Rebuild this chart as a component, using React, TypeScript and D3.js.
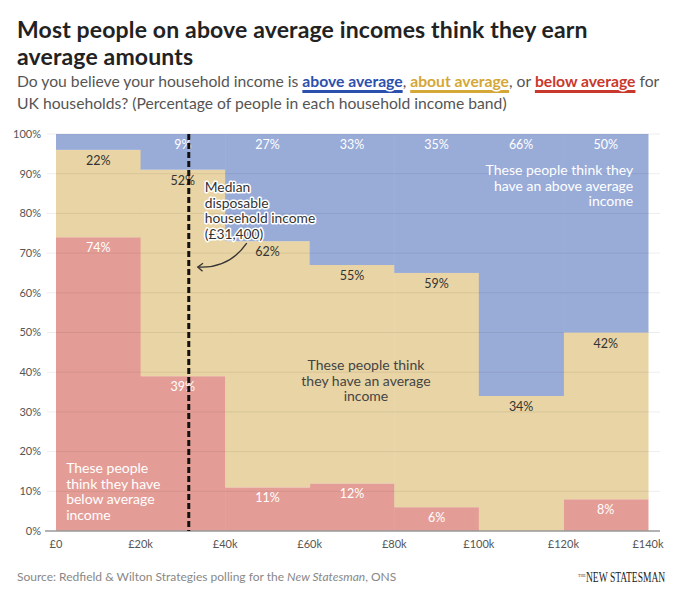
import { useEffect, useRef } from 'react';
import * as d3 from 'd3';

// income bands, in £k (each band is 20k wide)
const bandStarts = [0, 20, 40, 60, 80, 100, 120];
const bandWidth = 20;

// share of respondents in each band (%)
const belowAvg = [74, 39, 11, 12, 6, 0, 8];
const aboutAvg = [22, 52, 62, 55, 59, 34, 42];
const aboveAvg = [4, 9, 27, 33, 35, 66, 50];

const yTicks = [0, 10, 20, 30, 40, 50, 60, 70, 80, 90, 100];
const xTicks = [0, 20, 40, 60, 80, 100, 120, 140];
const medianIncome = 31.4;

const COLORS = { below: '#e49d96', about: '#e8d4a4', above: '#99acd8' };
const FONT = 'Lato, "Noto Sans", sans-serif';

export default function App() {
  const svgRef = useRef<SVGSVGElement>(null);

  useEffect(() => {
    if (!svgRef.current) return;
    document.body.style.margin = '0';

    const svg = d3.select(svgRef.current);
    svg.selectAll('*').remove();

    const x = d3.scaleLinear().domain([0, 140]).range([56, 648]);
    const y = d3.scaleLinear().domain([0, 100]).range([531, 134]);

    // Title
    const title = svg.append('text')
      .attr('x', 17)
      .attr('font-family', FONT)
      .attr('font-weight', 700)
      .attr('font-size', 23)
      .attr('letter-spacing', 0.15)
      .attr('fill', '#222');
    ['Most people on above average incomes think they earn', 'average amounts'].forEach((t, i) => {
      title.append('tspan').attr('x', 17).attr('y', 38 + i * 27).text(t);
    });

    // Subtitle with coloured keywords
    const sub = svg.append('text')
      .attr('font-family', FONT)
      .attr('font-size', 15.7)
      .attr('fill', '#555');
    const parts: Array<[string, string | null]> = [
      ['Do you believe your household income is ', null],
      ['above average', '#2c50ad'],
      [', ', null],
      ['about average', '#d4a736'],
      [', or ', null],
      ['below average', '#c9382c'],
      [' for', null],
    ];
    const line1 = sub.append('tspan').attr('x', 17).attr('y', 87);
    const colored: Array<{ node: SVGTSpanElement; color: string }> = [];
    parts.forEach(([t, c], i) => {
      const ts = (i === 0 ? line1 : sub.append('tspan')).text(t);
      if (c) {
        ts.attr('fill', c).attr('font-weight', 700)
          .attr('stroke', '#fff').attr('stroke-width', 3)
          .attr('paint-order', 'stroke');
        colored.push({ node: ts.node() as SVGTSpanElement, color: c });
      }
    });
    sub.append('tspan').attr('x', 17).attr('y', 109)
      .text('UK households? (Percentage of people in each household income band)');

    // underline bars behind keywords
    colored.forEach(({ node, color }) => {
      const start = node.getStartPositionOfChar(0);
      const w = node.getComputedTextLength();
      svg.insert('rect', 'text')
        .attr('x', start.x)
        .attr('y', 90)
        .attr('width', w)
        .attr('height', 3)
        .attr('fill', color);
    });

    // stacked bands
    const rows = bandStarts.map((s, i) => ({
      start: s,
      below: belowAvg[i],
      about: aboutAvg[i],
      above: aboveAvg[i],
    }));
    const stack = d3.stack<typeof rows[number]>().keys(['below', 'about', 'above']);
    const series = stack(rows);

    const plot = svg.append('g');
    series.forEach(s => {
      plot.append('g')
        .selectAll('rect')
        .data(s)
        .join('rect')
        .attr('x', d => x(d.data.start))
        .attr('width', d => x(d.data.start + bandWidth) - x(d.data.start) + 0.5)
        .attr('y', d => y(d[1]))
        .attr('height', d => y(d[0]) - y(d[1]))
        .attr('fill', COLORS[s.key as keyof typeof COLORS]);
    });

    // gridlines on top
    svg.append('g')
      .selectAll('line')
      .data(yTicks.filter(t => t > 0))
      .join('line')
      .attr('x1', 47)
      .attr('x2', 660)
      .attr('y1', d => y(d))
      .attr('y2', d => y(d))
      .attr('stroke', '#000')
      .attr('stroke-opacity', 0.07);

    svg.append('line')
      .attr('x1', 45).attr('x2', 660)
      .attr('y1', y(0)).attr('y2', y(0))
      .attr('stroke', '#999').attr('stroke-width', 1.5);

    // axis labels
    svg.append('g')
      .selectAll('text')
      .data(yTicks)
      .join('text')
      .attr('x', 41)
      .attr('y', d => y(d))
      .attr('dy', '0.35em')
      .attr('text-anchor', 'end')
      .attr('font-family', FONT)
      .attr('font-size', 11)
      .attr('fill', '#555')
      .text(d => `${d}%`);

    svg.append('g')
      .selectAll('text')
      .data(xTicks)
      .join('text')
      .attr('x', d => x(d))
      .attr('y', 548)
      .attr('text-anchor', 'middle')
      .attr('font-family', FONT)
      .attr('font-size', 11)
      .attr('fill', '#555')
      .text(d => (d === 0 ? '£0' : `£${d}k`));

    // value labels
    const labelColor: Record<string, string> = { below: '#fff', about: '#333', above: '#fff' };
    series.forEach(s => {
      svg.append('g')
        .selectAll('text')
        .data(s.filter(d => d.data[s.key as 'below'] >= 5))
        .join('text')
        .attr('x', d => x(d.data.start + bandWidth / 2))
        .attr('y', d => y(d[1]) + 15)
        .attr('text-anchor', 'middle')
        .attr('font-family', FONT)
        .attr('font-size', 12.5)
        .attr('fill', labelColor[s.key])
        .text(d => `${d.data[s.key as 'below']}%`);
    });

    // median line
    svg.append('line')
      .attr('x1', x(medianIncome)).attr('x2', x(medianIncome))
      .attr('y1', y(100)).attr('y2', y(0))
      .attr('stroke', '#111')
      .attr('stroke-width', 3)
      .attr('stroke-dasharray', '6 3');

    // median annotation
    const med = svg.append('text')
      .attr('font-family', FONT)
      .attr('font-size', 13.8)
      .attr('fill', '#333')
      .attr('stroke', '#fff')
      .attr('stroke-width', 3)
      .attr('stroke-linejoin', 'round')
      .attr('paint-order', 'stroke');
    ['Median', 'disposable', 'household income', '(£31,400)'].forEach((t, i) => {
      med.append('tspan').attr('x', x(medianIncome) + 16).attr('y', 192 + i * 15.5).text(t);
    });

    svg.append('defs').append('marker')
      .attr('id', 'arrow')
      .attr('viewBox', '-6 -5 8 10')
      .attr('markerWidth', 8)
      .attr('markerHeight', 10)
      .attr('orient', 'auto')
      .attr('markerUnits', 'userSpaceOnUse')
      .append('path')
      .attr('d', 'M-5,-4 L0,0 L-5,4')
      .attr('fill', 'none')
      .attr('stroke', '#333')
      .attr('stroke-width', 1.3);

    const ax = x(medianIncome);
    svg.append('path')
      .attr('d', `M${ax + 58},${y(72.5)} Q${ax + 40},${y(66)} ${ax + 9},${y(66.5)}`)
      .attr('fill', 'none')
      .attr('stroke', '#333')
      .attr('stroke-width', 1.3)
      .attr('marker-end', 'url(#arrow)');

    // group annotations
    const note = (lines: string[], px: number, py: number, anchor: string, color: string) => {
      const t = svg.append('text')
        .attr('font-family', FONT)
        .attr('font-size', 14)
        .attr('fill', color)
        .attr('text-anchor', anchor);
      lines.forEach((l, i) => {
        t.append('tspan').attr('x', px).attr('y', py + i * 15.5).text(l);
      });
    };
    note(['These people think they', 'have an above average', 'income'], x(136.5), 175, 'end', '#fff');
    note(['These people think', 'they have an average', 'income'], x(73.3), 370, 'middle', '#444');
    note(['These people', 'think they have', 'below average', 'income'], x(2.4), 473, 'start', '#fff');

    // footer
    const src = svg.append('text')
      .attr('x', 17).attr('y', 581)
      .attr('font-family', FONT)
      .attr('font-size', 12)
      .attr('fill', '#888');
    src.append('tspan').text('Source: Redfield & Wilton Strategies polling for the ');
    src.append('tspan').attr('font-style', 'italic').text('New Statesman');
    src.append('tspan').text(', ONS');

    svg.append('text')
      .attr('x', 578).attr('y', 577)
      .attr('font-family', '"Liberation Serif", serif')
      .attr('font-size', 4)
      .attr('fill', '#333')
      .text('THE');
    svg.append('text')
      .attr('transform', 'translate(586,582) scale(0.68,1)')
      .attr('font-family', '"Liberation Serif", serif')
      .attr('font-size', 14)
      .attr('fill', '#222')
      .text('NEW STATESMAN');
  }, []);

  return <svg ref={svgRef} width={680} height={592} style={{ display: 'block', background: '#fff' }} />;
}
